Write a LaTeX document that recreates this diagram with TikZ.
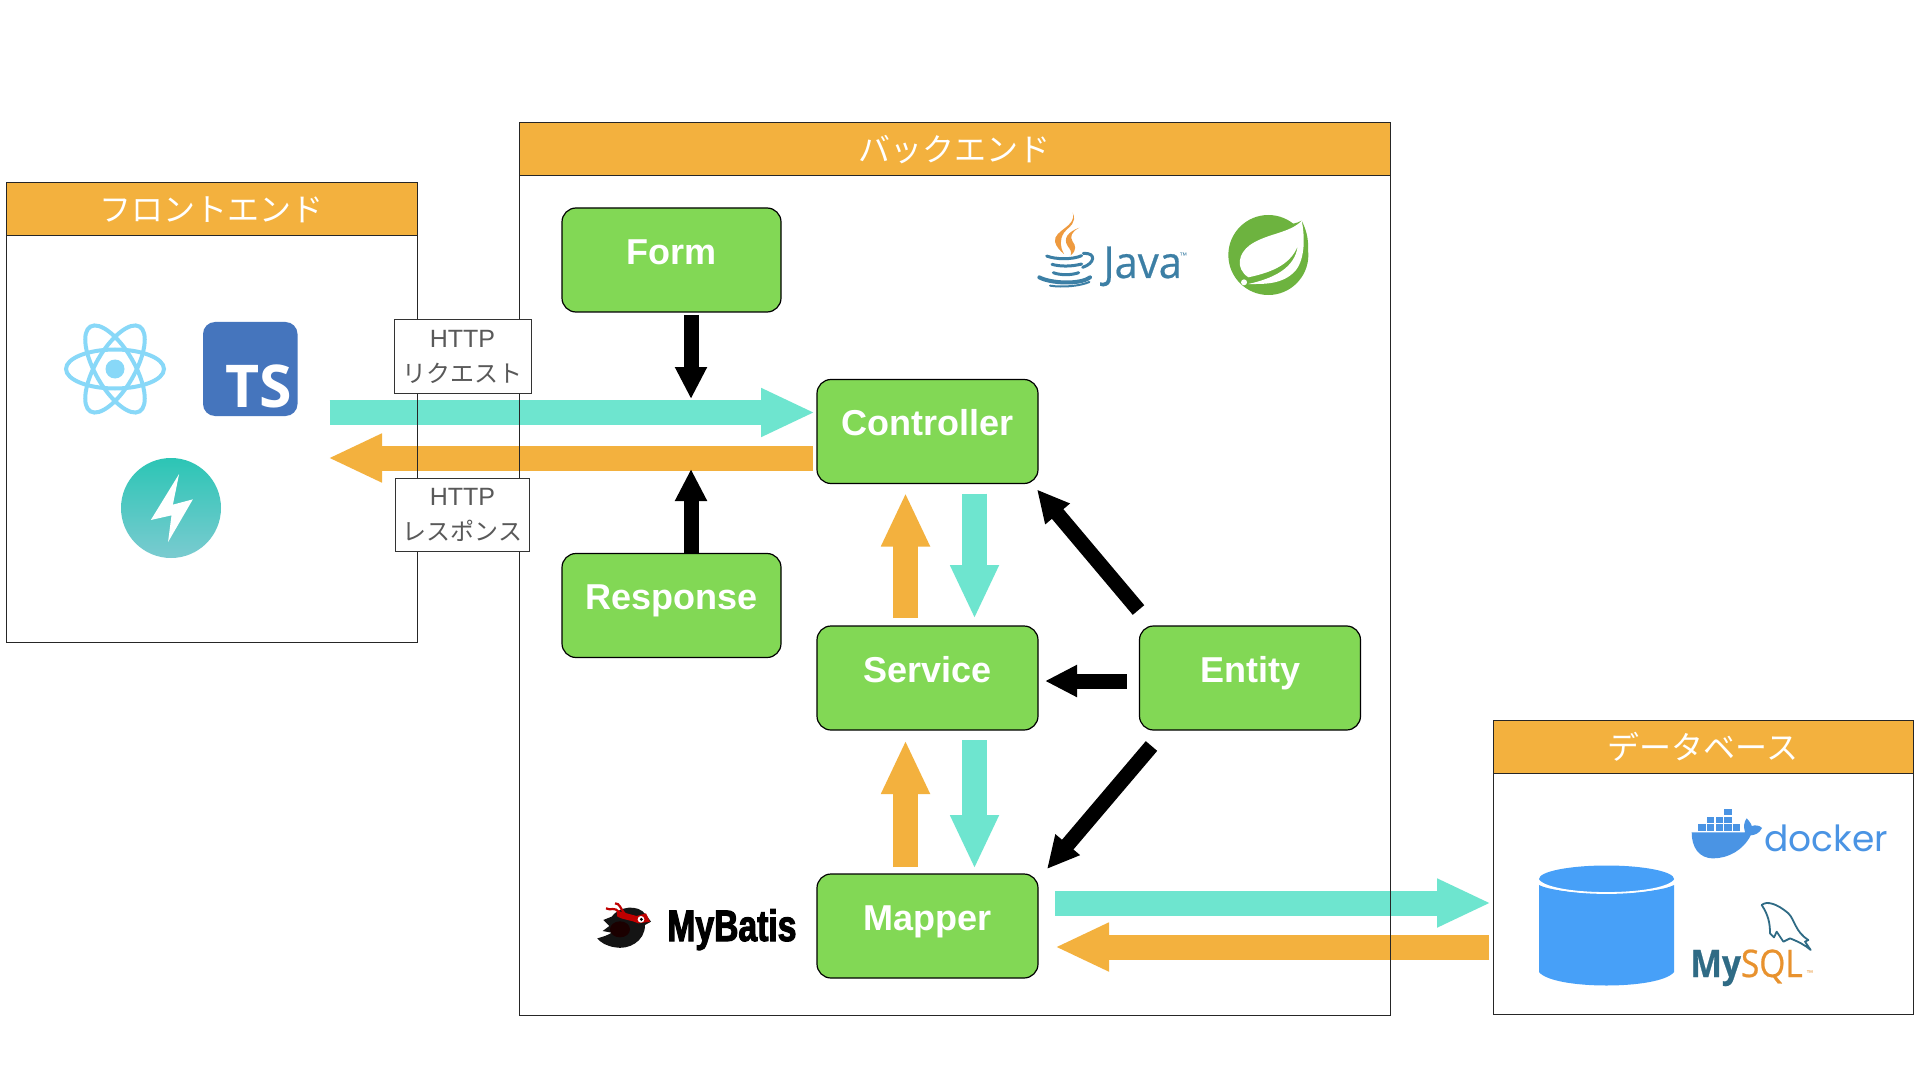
\documentclass[tikz,border=0pt]{standalone}
\usepackage{fontspec}
\usetikzlibrary{arrows.meta,calc}
\setmainfont{Liberation Sans}
\newfontfamily\jpfont{Noto Sans CJK JP}
\newfontfamily\opensans{Open Sans}
\newfontfamily\javafont[FakeStretch=0.95,FakeBold=0.5]{Open Sans}
\newfontfamily\mysqlfont[FakeStretch=0.88,FakeBold=0.6]{Open Sans}
\newfontfamily\popfont{Poppins}
\newfontfamily\mbfont[FakeStretch=0.765,BoldFeatures={FakeBold=2.5}]{Liberation Sans}
\definecolor{hdr}{HTML}{F3B13E}
\definecolor{grn}{HTML}{82D855}
\definecolor{tealc}{HTML}{6EE5CF}
\definecolor{reactc}{HTML}{88D8F8}
\definecolor{tsc}{HTML}{4575BD}
\definecolor{dbc}{HTML}{47A0F8}
\definecolor{dockc}{HTML}{4A94E4}
\definecolor{javab}{HTML}{3C7FA5}
\definecolor{javao}{HTML}{EE9A3F}
\definecolor{springc}{HTML}{6DB33F}
\definecolor{mysqlb}{HTML}{2F6B85}
\definecolor{mysqlo}{HTML}{E8922E}
\definecolor{boltt}{HTML}{2CC5B5}
\definecolor{boltb}{HTML}{7ACBD0}
\pgfdeclarelayer{back}
\pgfsetlayers{back,main}
\tikzset{
  greenbox/.style={draw=black,line width=.6pt,fill=grn,rounded corners=7pt,minimum width=109.5pt,minimum height=52pt,inner sep=0pt,outer sep=0pt,text=white,font=\fontsize{18}{20}\selectfont\bfseries,text height=13pt,text depth=8.8pt},
  frame/.style={draw=black!85,line width=.5pt,inner sep=0pt,outer sep=0pt},
  header/.style={draw=black!85,line width=.5pt,fill=hdr,inner sep=0pt,outer sep=0pt,minimum height=26.5pt,text=white,font=\jpfont\fontsize{16}{18}\selectfont},
  httpbox/.style={draw=black!80,line width=.5pt,fill=white,inner sep=0pt,outer sep=0pt,text=black!65,align=center,minimum height=36.5pt,font=\fontsize{12.5}{17.5}\selectfont},
  tealarrow/.style={draw=tealc,line width=12.5pt,-{Triangle[length=27pt,width=22.5pt]}},
  orangearrow/.style={draw=hdr,line width=12.5pt,-{Triangle[length=27pt,width=22.5pt]}},
  blackarrow/.style={draw=black,line width=7.5pt,-{Triangle[length=16pt,width=15pt]}},
  zoomed/.style={x=.16667pt,y=-.16667pt},
}
\begin{document}
\begin{tikzpicture}[x=.5pt,y=-.5pt]
\useasboundingbox (0,0) rectangle (1920,1080);
% frames
\node[frame,minimum width=205.75pt,minimum height=229.5pt] (front) at (211.75,412.5) {};
\node[frame,minimum width=435.5pt,minimum height=446pt] (backend) at (954.5,569) {};
\node[frame,minimum width=210pt,minimum height=146.5pt] (dbframe) at (1703,867.5) {};
\node[header,minimum width=205.75pt] (fronthead) at (211.75,209.5) {フロントエンド};
\node[header,minimum width=435.5pt] (backhead) at (954.5,149.5) {バックエンド};
\node[header,minimum width=210pt] (dbhead) at (1703,747) {データベース};
% green nodes
\node[greenbox] (form) at (671.5,260) {Form};
\node[greenbox] (response) at (671.5,605.5) {Response};
\node[greenbox,minimum width=110.5pt] (controller) at (927.5,431.5) {Controller};
\node[greenbox,minimum width=110.5pt] (service) at (927.5,678) {Service};
\node[greenbox,minimum width=110.5pt] (mapper) at (927.5,926) {Mapper};
\node[greenbox,minimum width=110.5pt] (entity) at (1250,678) {Entity};
% http labels
\node[httpbox,minimum width=68.5pt] (httpreq) at (462.5,356.5) {HTTP\\{\jpfont\fontsize{12}{17.5}\selectfont リクエスト}};
\node[httpbox,minimum width=67pt] (httpres) at (462.5,515) {HTTP\\{\jpfont\fontsize{12}{17.5}\selectfont レスポンス}};
% free ends
\coordinate (reqtail) at (329.5,412.5);
\coordinate (restip) at (328,458);
\coordinate (dbin) at (1491,903);
\coordinate (dbout) at (1489,947);
\coordinate (formtip) at (691,399);
\coordinate (resptip) at (691,469);
\begin{pgfonlayer}{back}
\fill[white] (0,0) rectangle (1920,1080);
\draw[tealarrow] (reqtail) -- ([shift={(-2,-19)}]controller.west);
\draw[orangearrow] ([shift={(-4,26.5)}]controller.west) -- (restip);
\draw[orangearrow] ([shift={(-22,-8)}]service.north) -- ([shift={(-22,9)}]controller.south);
\draw[tealarrow] ([shift={(47,10)}]controller.south) -- ([shift={(47,-7)}]service.north);
\draw[orangearrow] ([shift={(-22,-7)}]mapper.north) -- ([shift={(-22,10)}]service.south);
\draw[tealarrow] ([shift={(47,10)}]service.south) -- ([shift={(47,-5)}]mapper.north);
\draw[tealarrow] ([shift={(17,-23)}]mapper.east) -- (dbin);
\draw[orangearrow] (dbout) -- ([shift={(17,21)}]mapper.east);
\draw[blackarrow] ([shift={(19.5,3)}]form.south) -- (formtip);
\draw[blackarrow] ([shift={(19.5,0)}]response.north) -- (resptip);
\draw[blackarrow] ([shift={(-1,-16)}]entity.north west) -- ([shift={(-1,6)}]controller.south east);
\draw[blackarrow] ([shift={(-13,3)}]entity.west) -- ([shift={(7,3)}]service.east);
\draw[blackarrow] ([shift={(12,16)}]entity.south west) -- ([shift={(9,-5)}]mapper.north east);
\end{pgfonlayer}
% React
\foreach \a in {0,60,120}
  \draw[reactc,line width=2pt,rotate around={\a:(115,369)}] (115,369) ellipse [x radius=49,y radius=19.5];
\fill[reactc] (115,369) circle (9.5);
% TypeScript
\fill[tsc,rounded corners=6pt] (203,322) rectangle (297.5,416);
\node[anchor=base,inner sep=0pt,text=white,font=\opensans\fontsize{29.5}{30}\selectfont\bfseries] (tslogo) at (258.5,407) {TS};
% bolt
\shade[top color=boltt,bottom color=boltb] (171,508) circle (50);
\begin{scope}[shift={(0,170)},x=.1722pt,y=-.16667pt]
\fill[white] (520,912) -- (438,1050) -- (498,1036) -- (488,1116) -- (560,988) -- (502,1004) -- cycle;
\end{scope}
% Java
\begin{scope}[shift={(1000,190)},zoomed]
\fill[javao] (218,68) .. controls (232,110) and (160,120) .. (165,155) .. controls (168,170) and (180,182) .. (192,192) .. controls (180,170) and (178,150) .. (192,128) .. controls (208,108) and (232,100) .. cycle;
\fill[javao] (238,113) .. controls (205,125) and (188,145) .. (203,168) .. controls (210,178) and (216,185) .. (212,196) .. controls (232,180) and (226,165) .. (218,155) .. controls (208,140) and (215,125) .. cycle;
\begin{scope}[javab,line width=1.5pt,line cap=round]
\draw (140,198) .. controls (165,208) and (215,210) .. (245,197);
\draw (156,223) .. controls (180,230) and (215,230) .. (245,222);
\draw (250,190) .. controls (290,188) and (285,220) .. (248,232);
\draw (160,248) .. controls (180,256) and (215,256) .. (236,248);
\draw[line width=2pt] (118,262) .. controls (150,280) and (240,285) .. (270,262);
\draw[line width=1pt] (150,287) .. controls (190,293) and (240,288) .. (268,276);
\end{scope}
\end{scope}
\node[anchor=base west,inner sep=0pt,text=javab,font=\javafont\fontsize{22}{23}\selectfont] (javatext) at (1103,278) {Java};
\node[anchor=base west,inner sep=0pt,text=javab,font=\fontsize{4}{4}\selectfont] (javatm) at (1179,259) {™};
% Spring
\begin{scope}[shift={(1000,190)},zoomed]
\fill[springc] (805,195) circle [radius=120];
\fill[springc] (905,92) .. controls (870,110) and (850,100) .. (820,90) -- (880,260) .. controls (925,230) and (940,160) .. cycle;
\fill[white] (905,92) .. controls (870,130) and (800,130) .. (750,165) .. controls (715,190) and (705,235) .. (745,262) .. controls (800,250) and (870,230) .. (893,168) .. controls (885,235) and (820,265) .. (745,282) .. controls (790,282) and (850,285) .. (888,240) .. controls (915,205) and (915,140) .. cycle;
\fill[white] (732,277) circle [radius=9];
\end{scope}
% MyBatis
\begin{scope}[shift={(570,870)},zoomed]
\fill[black!92] (125,140) .. controls (145,110) and (205,100) .. (228,135) -- (243,155) -- (225,165) .. controls (225,215) and (175,240) .. (135,232) .. controls (110,228) and (92,218) .. (82,205) .. controls (100,200) and (115,195) .. (125,188) -- (98,183) -- (118,168) -- (100,150) -- cycle;
\fill[black!65!red!30!black] (150,178) ellipse [x radius=30,y radius=24];
\fill[red!75!black] (140,122) -- (200,138) -- (228,130) -- (240,155) -- (205,160) .. controls (185,150) and (160,150) .. (142,140) -- cycle;
\draw[red!75!black,line width=1.1pt] (108,115) .. controls (125,125) and (130,105) .. (150,130);
\draw[red!75!black,line width=1.1pt] (135,100) .. controls (150,100) and (150,115) .. (165,132);
\fill[white] (213,148) circle [radius=10];
\fill[black] (214,148) circle [radius=5];
\end{scope}
\node[anchor=base west,inner sep=0pt,text=black,font=\mbfont\fontsize{22}{24}\selectfont\bfseries] (mybatis) at (667,941) {MyBatis};
% Database
\fill[dbc] (1539,885) .. controls (1560,896) and (1653,896) .. (1674,885) -- (1674,972) .. controls (1660,990) and (1553,990) .. (1539,972) -- cycle;
\fill[dbc] (1606.5,879) ellipse [x radius=67.5,y radius=13.5];
\draw[white,line width=.9pt] (1539,881) .. controls (1555,897) and (1658,897) .. (1674,881);
% Docker
\begin{scope}[shift={(1480,710)},zoomed]
\foreach \xx in {655,681,707,733,759} \fill[dockc] (\xx,343) rectangle +(22,20);
\foreach \xx in {681,707,733} \fill[dockc] (\xx,320) rectangle +(22,20);
\fill[dockc] (733,296) rectangle +(22,20);
\fill[dockc] (635,367) -- (795,367) .. controls (790,350) and (792,335) .. (800,325) .. controls (810,335) and (815,345) .. (815,348) .. controls (825,345) and (838,345) .. (846,354) .. controls (838,370) and (825,375) .. (812,376) .. controls (790,420) and (745,445) .. (700,445) .. controls (655,445) and (635,410) .. cycle;
\end{scope}
\node[anchor=base west,inner sep=0pt,text=dockc,font=\popfont\fontsize{18}{20}\selectfont] (dockertext) at (1764,851) {docker};
% MySQL
\begin{scope}[shift={(1480,710)},zoomed]
\draw[mysqlb,line width=.9pt,line join=round] (845,585) .. controls (860,572) and (890,580) .. (925,610) .. controls (945,630) and (945,665) .. (985,690) -- (975,695) -- (992,720) .. controls (975,705) and (955,695) .. (930,685) -- (910,695) -- (890,665) -- (882,682) -- (870,670) .. controls (870,640) and (865,615) .. cycle;
\end{scope}
\node[anchor=base west,inner sep=0pt,font=\mysqlfont\fontsize{19}{21}\selectfont] (mysqltext) at (1690,977) {\textcolor{mysqlb}{\bfseries My}\textcolor{mysqlo}{SQL}};
\node[anchor=base west,inner sep=0pt,text=mysqlo,font=\fontsize{3.5}{4}\selectfont] (mysqltm) at (1806,975) {™};
\end{tikzpicture}
\end{document}
